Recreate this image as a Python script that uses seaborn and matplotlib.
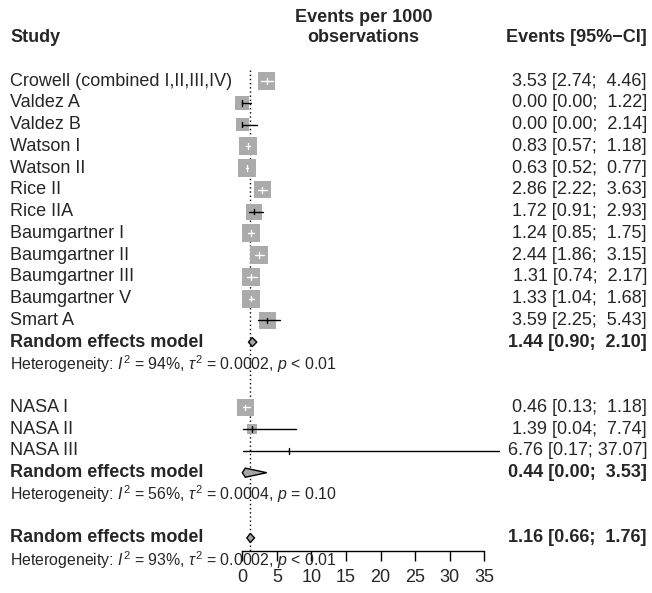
import matplotlib
matplotlib.use("Agg")
import matplotlib.pyplot as plt
import matplotlib.transforms as mtransforms
import seaborn as sns
import numpy as np
import pandas as pd

# study level data (events per 1000 observations)
study = ["Crowell (combined I,II,III,IV)", "Valdez A", "Valdez B", "Watson I", "Watson II",
         "Rice II", "Rice IIA", "Baumgartner I", "Baumgartner II", "Baumgartner III",
         "Baumgartner V", "Smart A", "NASA I", "NASA II", "NASA III"]
events = [3.53, 0.00, 0.00, 0.83, 0.63, 2.86, 1.72, 1.24, 2.44, 1.31, 1.33, 3.59, 0.46, 1.39, 6.76]
lower = [2.74, 0.00, 0.00, 0.57, 0.52, 2.22, 0.91, 0.85, 1.86, 0.74, 1.04, 2.25, 0.13, 0.04, 0.17]
upper = [4.46, 1.22, 2.14, 1.18, 0.77, 3.63, 2.93, 1.75, 3.15, 2.17, 1.68, 5.43, 1.18, 7.74, 37.07]
weight = [7.5, 5.1, 4.4, 8.4, 8.4, 7.5, 6.6, 8.4, 8.4, 8.4, 8.4, 7.5, 7.5, 2.6, 0.2]
group = [1] * 12 + [2] * 3

# pooled estimates: subgroup 1, subgroup 2, overall
pooled_est = [1.44, 0.44, 1.16]
pooled_lo = [0.90, 0.00, 0.66]
pooled_hi = [2.10, 3.53, 1.76]
het_i2 = ["94%", "56%", "93%"]
het_tau2 = ["0.0002", "0.0004", "0.0002"]
het_p = ["< 0.01", "= 0.10", "< 0.01"]

xticks = [0, 5, 10, 15, 20, 25, 30, 35]

sns.set_theme(style="white")
plt.rcParams["font.family"] = ["Liberation Sans", "DejaVu Sans"]
plt.rcParams["mathtext.fontset"] = "custom"
plt.rcParams["mathtext.rm"] = "Liberation Sans"
plt.rcParams["mathtext.it"] = "Liberation Sans:italic"

W, H = 652, 593
fig = plt.figure(figsize=(W / 100, H / 100), dpi=100)
x0, x1 = 242.3, 484.3
axis_px = 551
ax = fig.add_axes([x0 / W, (H - axis_px) / H, (x1 - x0) / W, axis_px / H])
row_px0, row_step = 81, 21.76
ax.set_ylim((axis_px - row_px0) / row_step, -row_px0 / row_step)
ax.set_xlim(0, 35)

# row positions
rows = []
r = 0
for g in (1, 2):
    for i in range(len(study)):
        if group[i] == g:
            rows.append(r)
            r += 1
    if g == 1:
        pooled_rows = [r]
    else:
        pooled_rows.append(r)
    r += 3
pooled_rows.append(r)

df = pd.DataFrame({"study": study, "events": events, "lower": lower, "upper": upper,
                   "weight": weight, "row": rows})
side_px = 18 * np.sqrt(df["weight"] / 8.4)
df["s"] = (side_px * 72 / 100) ** 2
half_units = side_px / 2 * 35 / (x1 - x0)
inside = (df["lower"] >= df["events"] - half_units) & (df["upper"] <= df["events"] + half_units)

ref = pooled_est[2]
ax.vlines(ref, -0.5, (axis_px - row_px0) / row_step, colors="black", linestyles=(0, (1, 2)),
          linewidth=1, zorder=1)

sns.scatterplot(data=df, x="events", y="row", s=df["s"], marker="s", color="#ababab",
                linewidth=0, legend=False, ax=ax, zorder=2, clip_on=False)
for i, row in df.iterrows():
    c = "white" if inside[i] else "black"
    ax.plot([row["lower"], row["upper"]], [row["row"]] * 2, color=c, lw=1, zorder=3, clip_on=False)
    ax.plot([row["events"]] * 2, [row["row"] - 0.13, row["row"] + 0.13], color=c, lw=1,
            zorder=3, clip_on=False)

for k in range(3):
    yr = pooled_rows[k]
    h = 0.21
    ax.fill([pooled_lo[k], pooled_est[k], pooled_hi[k], pooled_est[k]],
            [yr, yr - h, yr, yr + h], facecolor="#a5a5a5", edgecolor="black", lw=1,
            zorder=4, clip_on=False)

ax.set_yticks([])
ax.set_xticks(xticks)
ax.set_xlabel("")
ax.set_ylabel("")
for sp in ["top", "left", "right"]:
    ax.spines[sp].set_visible(False)
ax.spines["bottom"].set_color("black")
ax.spines["bottom"].set_linewidth(1)
ax.spines["bottom"].set_bounds(0, 35)
ax.tick_params(axis="x", direction="out", length=7, width=1, color="black",
               labelsize=13, pad=6, bottom=True)
ax.patch.set_alpha(0)

tr = mtransforms.blended_transform_factory(fig.transFigure, ax.transData)
lx, rx = 10 / W, 647 / W
fs = 13

ax.text(lx, -2, "Study", transform=tr, fontsize=fs, fontweight="bold", va="center", ha="left")
ax.text((x0 + x1) / 2 / W, -2.9, "Events per 1000", transform=tr, fontsize=fs,
        fontweight="bold", va="center", ha="center")
ax.text((x0 + x1) / 2 / W, -2, "observations", transform=tr, fontsize=fs,
        fontweight="bold", va="center", ha="center")
ax.text(rx, -2, "Events [95%\u2212CI]", transform=tr, fontsize=fs, fontweight="bold",
        va="center", ha="right")

for i, row in df.iterrows():
    ax.text(lx, row["row"], row["study"], transform=tr, fontsize=fs, va="center", ha="left")
    hi_s = f"{row['upper']:.2f}"
    sep = "  " if len(hi_s) == 4 else " "
    lab = f"{row['events']:.2f} [{row['lower']:.2f};{sep}{hi_s}]"
    ax.text(rx, row["row"], lab, transform=tr, fontsize=fs, va="center", ha="right")

for k in range(3):
    yr = pooled_rows[k]
    ax.text(lx, yr, "Random effects model", transform=tr, fontsize=fs, fontweight="bold",
            va="center", ha="left")
    ax.text(rx, yr, f"{pooled_est[k]:.2f} [{pooled_lo[k]:.2f};  {pooled_hi[k]:.2f}]",
            transform=tr, fontsize=fs, fontweight="bold", va="center", ha="right")
    het = (r"Heterogeneity: $\mathit{I}^2$ = " + het_i2[k]
           + r", $\tau^2$ = " + het_tau2[k] + r", $\mathit{p}$ " + het_p[k])
    ax.text(lx, yr + 1, het, transform=tr, fontsize=11.4, va="center", ha="left")

fig.savefig("out.png", dpi=100)
